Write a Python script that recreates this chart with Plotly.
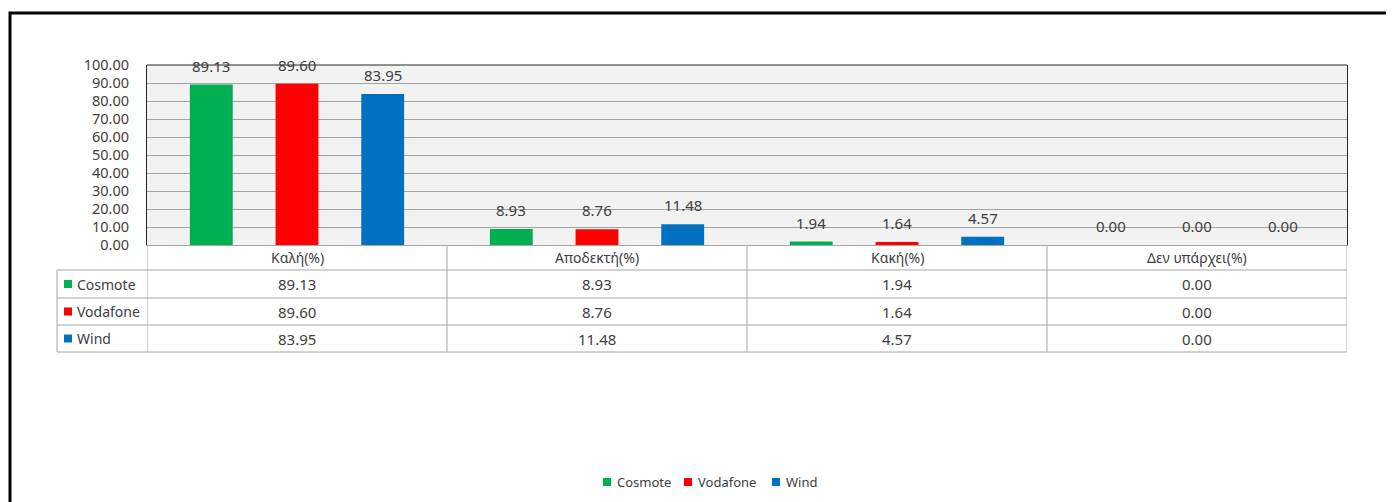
import plotly.graph_objects as go

# ---------------- data ----------------
categories = ["Καλή(%)", "Αποδεκτή(%)", "Κακή(%)", "Δεν υπάρχει(%)"]
series_names = ["Cosmote", "Vodafone", "Wind"]
cosmote = [89.13, 8.93, 1.94, 0.00]
vodafone = [89.60, 8.76, 1.64, 0.00]
wind = [83.95, 11.48, 4.57, 0.00]
y_ticks = [0, 10, 20, 30, 40, 50, 60, 70, 80, 90, 100]

series_values = [cosmote, vodafone, wind]
colors = ["#00b050", "#ff0000", "#0070c0"]

# ---------------- layout geometry (page pixels) ----------------
OFF = 8                      # page body margin
W, H = 1394 - OFF, 502 - OFF  # figure size
PL, PR, PT, PB = 147, 1347, 65, 245   # plot area in page pixels
L, T = PL - OFF, PT - OFF
R, B = W - (PR - OFF), H - (PB - OFF)
PW, PH = PR - PL, PB - PT
FONT = "Noto Sans, Open Sans, DejaVu Sans, sans-serif"
TXT = "#404040"
GRID = "#a3a3a3"
TABLE_LINE = "#a6a6a6"
BARGAP = 0.143
BARGROUPGAP = 0.5


def px(x):
    return (x - PL) / PW


def py(y):
    return (PB - y) / PH


xs = list(range(len(categories)))
slot = (1 - BARGAP) / len(series_names)

fig = go.Figure()
for j, (name, vals, col) in enumerate(zip(series_names, series_values, colors)):
    fig.add_trace(go.Bar(
        x=xs, y=vals, name=name, marker=dict(color=col, line=dict(width=0)),
        customdata=categories,
        hovertemplate="%{customdata}<br>" + name + ": %{y:.2f}<extra></extra>",
        showlegend=False,
    ))

annotations = []
shapes = []

# data labels above bars
for j, vals in enumerate(series_values):
    for i, v in enumerate(vals):
        annotations.append(dict(
            x=i + (j - (len(series_names) - 1) / 2) * slot, y=v, xref="x", yref="y",
            text=f"{v:.2f}", showarrow=False, yanchor="bottom", yshift=7,
            font=dict(family=FONT, size=15, color=TXT),
        ))

# plot area top border
shapes.append(dict(type="line", xref="paper", yref="paper", x0=0, x1=1, y0=1, y1=1,
                   line=dict(color="#262626", width=1)))

# ---------------- data table ----------------
row_edges = [245, 270, 298, 325, 352]
left_col = 57
for ye in row_edges[1:]:
    shapes.append(dict(type="line", xref="paper", yref="paper",
                       x0=px(left_col), x1=1, y0=py(ye), y1=py(ye),
                       line=dict(color=TABLE_LINE, width=1)))
for i in range(len(categories) + 1):
    shapes.append(dict(type="line", xref="x", yref="paper",
                       x0=i - 0.5, x1=i - 0.5, y0=py(row_edges[0]), y1=py(row_edges[-1]),
                       line=dict(color=TABLE_LINE, width=1)))
shapes.append(dict(type="line", xref="paper", yref="paper",
                   x0=px(left_col), x1=px(left_col), y0=py(row_edges[1]), y1=py(row_edges[-1]),
                   line=dict(color=TABLE_LINE, width=1)))

hdr_y = py((row_edges[0] + row_edges[1]) / 2)
for i, c in enumerate(categories):
    annotations.append(dict(x=i, y=hdr_y, xref="x", yref="paper", text=c, showarrow=False,
                            yanchor="middle", font=dict(family=FONT, size=14, color=TXT)))

for j, (name, vals, col) in enumerate(zip(series_names, series_values, colors)):
    yc = (row_edges[j + 1] + row_edges[j + 2]) / 2
    shapes.append(dict(type="rect", xref="paper", yref="paper",
                       x0=px(64), x1=px(72), y0=py(yc - 4), y1=py(yc + 4),
                       fillcolor=col, line=dict(width=0)))
    annotations.append(dict(x=px(75), y=py(yc), xref="paper", yref="paper", text=name,
                            showarrow=False, xanchor="left", yanchor="middle",
                            font=dict(family=FONT, size=14, color=TXT)))
    for i, v in enumerate(vals):
        annotations.append(dict(x=i, y=py(yc), xref="x", yref="paper", text=f"{v:.2f}",
                                showarrow=False, yanchor="middle",
                                font=dict(family=FONT, size=15, color=TXT)))

# ---------------- bottom legend ----------------
legend_square_x = [603, 684, 772]
legend_y = 482
for name, col, sx in zip(series_names, colors, legend_square_x):
    shapes.append(dict(type="rect", xref="paper", yref="paper",
                       x0=px(sx), x1=px(sx + 8), y0=py(legend_y - 4), y1=py(legend_y + 4),
                       fillcolor=col, line=dict(width=0)))
    annotations.append(dict(x=px(sx + 12), y=py(legend_y), xref="paper", yref="paper", text=name,
                            showarrow=False, xanchor="left", yanchor="middle",
                            font=dict(family=FONT, size=13, color=TXT)))

# outer chart frame
shapes.append(dict(type="rect", xref="paper", yref="paper",
                   x0=px(10), x1=px(1394 + 20), y0=py(502 + 20), y1=py(13),
                   line=dict(color="black", width=3), fillcolor="rgba(0,0,0,0)"))

fig.update_layout(
    width=W, height=H,
    margin=dict(l=L, r=R, t=T, b=B, autoexpand=False),
    paper_bgcolor="white", plot_bgcolor="#f2f2f2",
    barmode="group", bargap=BARGAP, bargroupgap=BARGROUPGAP,
    font=dict(family=FONT, size=14, color=TXT),
    showlegend=False,
    xaxis=dict(range=[-0.5, len(categories) - 0.5], showticklabels=False, showgrid=False,
               zeroline=False, showline=True, linecolor=TABLE_LINE, linewidth=1, ticks="",
               fixedrange=True),
    yaxis=dict(range=[0, 100], tickvals=y_ticks, tickformat=".2f", showgrid=True,
               gridcolor=GRID, gridwidth=1, zeroline=False, showline=True, mirror=True,
               linecolor="#262626", linewidth=1, ticks="", ticklabelstandoff=14,
               tickfont=dict(family=FONT, size=14.5, color=TXT), fixedrange=True),
    annotations=annotations,
    shapes=shapes,
)

fig.write_html("out.html")
